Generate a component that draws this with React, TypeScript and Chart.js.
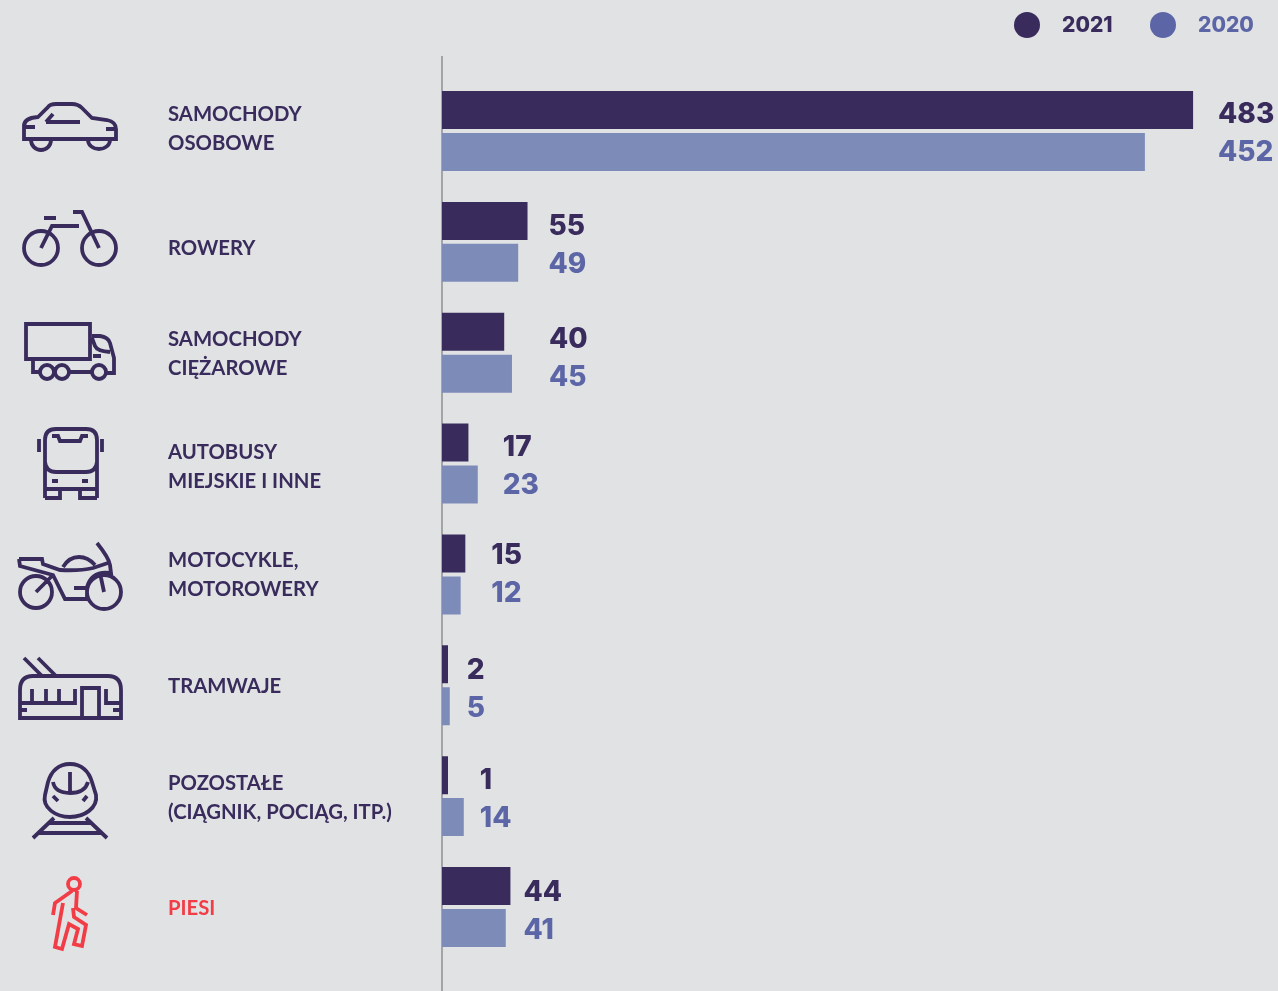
import React, { useEffect, useRef } from "react";
import { Chart, registerables } from "chart.js";

Chart.register(...registerables);

// Road-accident counts by type of participant, current year against the previous one.
const categories: string[][] = [
  ["SAMOCHODY", "OSOBOWE"],
  ["ROWERY"],
  ["SAMOCHODY", "CIĘŻAROWE"],
  ["AUTOBUSY", "MIEJSKIE I INNE"],
  ["MOTOCYKLE,", "MOTOROWERY"],
  ["TRAMWAJE"],
  ["POZOSTAŁE", "(CIĄGNIK, POCIĄG, ITP.)"],
  ["PIESI"],
];
const values2021 = [483, 55, 40, 17, 15, 2, 1, 44];
const values2020 = [452, 49, 45, 23, 12, 5, 14, 41];
const seriesNames = ["2021", "2020"];

// Layout of the value labels: gap after the longer bar and vertical nudge per row.
const labelGaps = [25, 21, 37, 25, 26, 17, 16, 13];
const labelNudges = [0.5, 1.5, 3.5, 1.5, -1.5, 2.5, 1.5, 2.5];
// Vertical nudge of the row captions on the left.
const captionNudges = [-2.5, 6.5, 1, 3, 1, 1, 2, 1];

const BACKGROUND = "#e1e2e4";
const DARK = "#392c5c";
const LIGHT_BAR = "#7d8bb8";
const LIGHT_TEXT = "#5c66a6";
const RED = "#f23d46";
const AXIS_LINE = "#a3a4a6";
const VALUE_FONT = "800 28px Inter";
const LEGEND_FONT = "800 21px Inter";
const LABEL_FAMILY = "Lato";

// Pictograms for each row, as stroked outlines in canvas coordinates.
const icons: { color: string; d: string; fill?: string }[] = [
  {
    color: DARK,
    d: "M31,140 A10,10 0 0 0 51,140 M88,140 A11,9 0 0 0 110,140 M24,139 V126 Q24,118 38,117 L48,107 Q50,104 56,104 H72 Q78,104 82,108 L92,118 L107,120 Q116,122 116,129 V139 Z M46,122 H80 M46,122 L53,114 M24,127 H35 M106,129 H116",
  },
  {
    color: DARK,
    d: "M58,248 A17,17 0 1 1 24,248 A17,17 0 1 1 58,248 M116,248 A17,17 0 1 1 82,248 A17,17 0 1 1 116,248 M41,248 L52,226 H79 M73,212 H82 L99,248 M44,218 H56",
  },
  {
    color: DARK,
    d: "M26,324 H90 V359 H26 Z M92,336 H100 Q108,337 110,343 L114,358 V373 H106 M33,360 V372 H40 M54,372 H55 M69,372 H92 M92,338 L95,346 Q97,351 110,352 M93,356 H101 M54,372 A7,7 0 1 1 40,372 A7,7 0 1 1 54,372 M69,372 A7,7 0 1 1 55,372 A7,7 0 1 1 69,372 M106,372 A7,7 0 1 1 92,372 A7,7 0 1 1 106,372",
  },
  {
    color: DARK,
    d: "M45,498 V440 Q45,429 56,429 H86 Q97,429 97,440 V498 M45,462 Q46,472 56,472 H86 Q96,472 97,462 M39,439 V452 M102,439 V452 M52,436 H58 L60,441 H80 L82,436 H88 M52,481 H58 M82,481 H88 M45,489 H97 M45,498 H60 V489 M97,498 H80 V489",
  },
  {
    color: DARK,
    d: "M52,592 A16,16 0 1 1 20,592 A16,16 0 1 1 52,592 M121,592 A17,17 0 1 1 87,592 A17,17 0 1 1 121,592 M36,592 L53,575 M104,592 L100,573 M19,559 H42 L43,564 L60,570 Q80,571 93,568 L108,563 M19,559 L20,566 L53,575 L65,599 H87 M63,567 Q69,557 79,557 Q88,557 95,565 M97,543 Q109,558 110,565 L111,573 Q92,570 87,587 L87,598 M74,588 H87",
  },
  {
    color: DARK,
    d: "M20,718 V690 Q20,676 33,676 H108 Q121,676 121,690 V718 Z M24,658 L42,676 M38,658 L56,676 M20,703 H75 V689 M32,689 V703 M46,689 V703 M59,689 V703 M82,718 V688 H99 V718 M106,689 V703 H121 M20,710 H27 M113,710 H121",
  },
  {
    color: DARK,
    d: "M70,764 C82,764 89,772 92,782 L96,795 C98,808 84,817 70,817 C56,817 42,808 45,795 L48,782 C51,772 58,764 70,764 Z M53,782 Q55,793 70,793 Q85,793 88,782 M70,772 V793 M53,796 L58,801 M87,796 L83,801 M54,818 L33,838 M86,818 L107,838 M48,823 H92 M38,833 H102",
  },
  {
    color: RED,
    d: "M80,884 A6,6 0 1 1 68,884 A6,6 0 1 1 80,884 M72,891 L55,903 L53,915 M77,891 L76,908 L87,915 M63,903 L55,947 L62,949 L69,924 L78,929 L74,944 L82,946 L86,925 L74,917 L73,908",
  },
];

const mainPlugin = {
  id: "rowDecorations",
  afterLayout(chart: any) {
    // shift each row caption by its own nudge
    chart.scales.y.getLabelItems().forEach((item: any, i: number) => {
      item.options.translation[1] += captionNudges[i];
    });
  },
  beforeDatasetsDraw(chart: any) {
    const { ctx, scales } = chart;
    const x = scales.x.getPixelForValue(0);
    ctx.save();
    ctx.strokeStyle = AXIS_LINE;
    ctx.lineWidth = 2;
    ctx.beginPath();
    ctx.moveTo(x, 56);
    ctx.lineTo(x, chart.height);
    ctx.stroke();
    ctx.restore();
  },
  afterDatasetsDraw(chart: any) {
    const { ctx, scales, data } = chart;
    ctx.save();

    // value labels, both aligned after the longer bar of the row
    ctx.font = VALUE_FONT;
    ctx.textBaseline = "middle";
    ctx.textAlign = "left";
    const [a, b] = [data.datasets[0].data, data.datasets[1].data];
    a.forEach((_: number, i: number) => {
      const left = scales.x.getPixelForValue(Math.max(a[i], b[i])) + labelGaps[i];
      const center = scales.y.getPixelForValue(i) + labelNudges[i];
      ctx.fillStyle = DARK;
      ctx.fillText(String(a[i]), left, center - 19 + 2);
      ctx.fillStyle = LIGHT_TEXT;
      ctx.fillText(String(b[i]), left, center + 19 + 2);
    });

    // series key in the top right corner
    ctx.font = LEGEND_FONT;
    const key = [
      { dot: 1027, text: 1062, dotColor: DARK, textColor: DARK },
      { dot: 1163, text: 1198, dotColor: "#5c66a6", textColor: LIGHT_TEXT },
    ];
    key.forEach((k, i) => {
      ctx.fillStyle = k.dotColor;
      ctx.beginPath();
      ctx.arc(k.dot, 25, 13, 0, Math.PI * 2);
      ctx.fill();
      ctx.fillStyle = k.textColor;
      ctx.fillText(seriesNames[i], k.text, 26);
    });

    // row pictograms
    ctx.lineWidth = 3.8;
    ctx.lineJoin = "miter";
    ctx.lineCap = "butt";
    icons.forEach((icon) => {
      ctx.strokeStyle = icon.color;
      ctx.stroke(new Path2D(icon.d));
    });
    ctx.restore();
  },
};

export default function App() {
  const canvasRef = useRef<HTMLCanvasElement>(null);

  useEffect(() => {
    const chart = new Chart(canvasRef.current!, {
      type: "bar",
      data: {
        labels: categories as any,
        datasets: [
          { label: seriesNames[0], data: values2021, backgroundColor: DARK },
          { label: seriesNames[1], data: values2020, backgroundColor: LIGHT_BAR },
        ],
      },
      options: {
        indexAxis: "y",
        responsive: false,
        animation: false,
        layout: { padding: { top: 75.6, bottom: 28.6, left: 168, right: 0 } },
        datasets: { bar: { categoryPercentage: 0.7577, barPercentage: 0.9048, minBarLength: 6 } },
        plugins: { legend: { display: false }, tooltip: { enabled: false } },
        scales: {
          x: { display: false, min: 0, max: 537.6, grid: { display: false } },
          y: {
            grid: { display: false, drawTicks: false },
            border: { display: false },
            afterFit(scale: any) {
              scale.width = 274;
              scale.paddingTop = 0;
              scale.paddingBottom = 0;
            },
            ticks: {
              autoSkip: false,
              crossAlign: "far",
              padding: 0,
              color: (ctx: any) => (ctx.index === 7 ? RED : DARK),
              font: { family: LABEL_FAMILY, size: 20.3, weight: "700", lineHeight: 29 / 20.3 },
            },
          },
        },
      },
      plugins: [mainPlugin],
    } as any);
    return () => chart.destroy();
  }, []);

  return (
    <div style={{ position: "fixed", inset: 0, background: BACKGROUND }}>
      <canvas ref={canvasRef} width={1278} height={991} style={{ display: "block" }} />
    </div>
  );
}
